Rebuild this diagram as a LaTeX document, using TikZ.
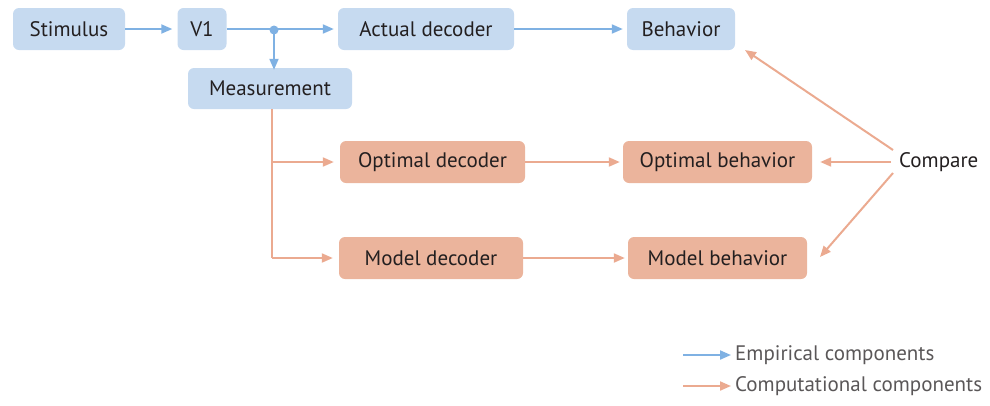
\documentclass[tikz,border=0pt]{standalone}
\usepackage{fontspec}
\setmainfont{PT Sans}
\usetikzlibrary{arrows.meta}
\definecolor{bfill}{HTML}{C6DAF0}
\definecolor{barrow}{HTML}{7FB1E3}
\definecolor{ofill}{HTML}{EBB49C}
\definecolor{oarrow}{HTML}{EBAA90}
\definecolor{txt}{HTML}{231F20}
\begin{document}
\begin{tikzpicture}[x=1pt,y=-1pt,
  every node/.style={text=txt,font=\fontsize{21}{24}\selectfont},
  bbox/.style={fill=bfill,rounded corners=6pt,inner sep=0pt},
  obox/.style={fill=ofill,rounded corners=6pt,inner sep=0pt},
  barr/.style={draw=barrow,line width=2pt,-{Triangle[length=11pt,width=9pt]}},
  oarr/.style={draw=oarrow,line width=2pt,-{Triangle[length=11pt,width=9pt]}},
  oline/.style={draw=oarrow,line width=2pt}]
\useasboundingbox (0,0) rectangle (990,405);
% blue boxes
\node[bbox,minimum width=112pt,minimum height=42pt] (stim) at (69,29) {Stimulus};
\node[bbox,minimum width=49pt,minimum height=42pt] (v1) at (202,29) {V1};
\node[bbox,minimum width=164pt,minimum height=41pt] (meas) at (270,88.5) {Measurement};
\node[bbox,minimum width=176pt,minimum height=42pt] (act) at (426,29) {Actual decoder};
\node[bbox,minimum width=108pt,minimum height=42pt] (beh) at (681,29) {Behavior};
% orange boxes
\node[obox,minimum width=185pt,minimum height=42pt] (opt) at (432.5,162) {Optimal decoder};
\node[obox,minimum width=189pt,minimum height=42pt] (optb) at (717.5,162) {Optimal behavior};
\node[obox,minimum width=184pt,minimum height=42pt] (mod) at (431,258) {Model decoder};
\node[obox,minimum width=179pt,minimum height=42pt] (modb) at (717.5,258) {Model behavior};
\node[inner sep=0pt,anchor=west] (cmp) at (899,162) {Compare};
% blue connectors
\coordinate (dot) at (274,30);
\draw[barr] (stim.east) -- ([xshift=-5pt]v1.west);
\draw[barr] (v1.east) -- ([xshift=-4pt]act.west);
\fill[barrow] (dot) circle (4.5pt);
\draw[barr] (dot) -- ([yshift=-2pt]dot |- meas.north);
\draw[barr] (act.east) -- ([xshift=-4pt]beh.west);
% orange connectors
\coordinate (mb) at (272,109);
\coordinate (j1) at (272,162);
\coordinate (j2) at (272,258);
\draw[oline] (mb) -- (j2);
\draw[oarr] (j1) -- ([xshift=-6pt]opt.west);
\draw[oarr] (j2) -- ([xshift=-6pt]mod.west);
\draw[oarr] (opt.east) -- ([xshift=-3pt]optb.west);
\draw[oarr] (mod.east) -- ([xshift=-3pt]modb.west);
\draw[oarr] (893,150) -- (745,50);
\draw[oarr] ([xshift=-8pt]cmp.west) -- ([xshift=8pt]optb.east);
\draw[oarr] (893,173) -- (820,257);
% legend
\coordinate (l1a) at (683,355);
\coordinate (l1b) at (731,355);
\coordinate (l2a) at (683,386);
\coordinate (l2b) at (731,386);
\draw[barr] (l1a) -- (l1b);
\draw[oarr] (l2a) -- (l2b);
\node[anchor=west,inner sep=0pt,text=txt!75] (le) at (735,355) {Empirical components};
\node[anchor=west,inner sep=0pt,text=txt!75] (lc) at (735,386) {Computational components};
\end{tikzpicture}
\end{document}
